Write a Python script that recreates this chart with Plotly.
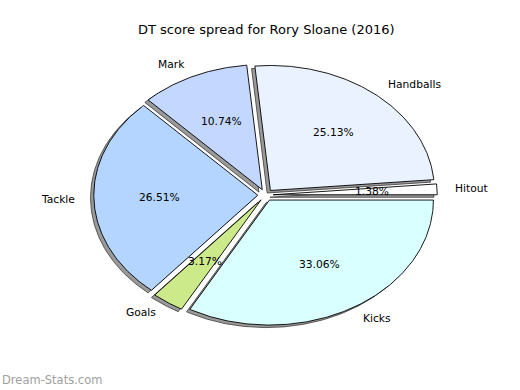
import numpy as np
import plotly.graph_objects as go

# Data (counter-clockwise from 0 degrees, matplotlib style)
categories = ["Hitout", "Handballs", "Mark", "Tackle", "Goals", "Kicks"]
values = [1.38, 25.13, 10.74, 26.51, 3.17, 33.06]
colors = ["#FFFFFF", "#EBF2FF", "#C4D8FF", "#B3D5FF", "#CDEA8A", "#D9FFFF"]
explode = 0.047
title = "DT score spread for Rory Sloane (2016)"

# pixel geometry
W, H = 520, 390
cx_px, cy_px = 265.5, 195
sx, sy = 164.0, 125.0
xr = [-cx_px / sx, (W - cx_px) / sx]
yr = [-(H - cy_px) / sy, cy_px / sy]

fig = go.Figure()
total = sum(values)
theta0 = 0.0
wedges = []
for cat, v, col in zip(categories, values, colors):
    t1 = theta0
    t2 = theta0 + 360.0 * v / total
    tm = np.deg2rad((t1 + t2) / 2)
    ex, ey = explode * np.cos(tm), explode * np.sin(tm)
    n = max(4, int(abs(t2 - t1) * 1.5))
    th = np.deg2rad(np.linspace(t1, t2, n))
    xs = np.concatenate([[ex], ex + np.cos(th), [ex]])
    ys = np.concatenate([[ey], ey + np.sin(th), [ey]])
    wedges.append((cat, v, col, xs, ys, ex, ey, tm))
    theta0 = t2

# shadows
for cat, v, col, xs, ys, ex, ey, tm in wedges:
    fig.add_trace(go.Scatter(x=xs - 0.02, y=ys - 0.02, mode="lines", fill="toself",
                             fillcolor="rgba(100,100,100,0.65)",
                             line=dict(color="rgba(60,60,60,0.8)", width=1),
                             hoverinfo="skip", showlegend=False))
# wedges
for cat, v, col, xs, ys, ex, ey, tm in wedges:
    fig.add_trace(go.Scatter(x=xs, y=ys, mode="lines", fill="toself",
                             fillcolor=col, line=dict(color="black", width=0.9),
                             name=cat, hoverinfo="name", showlegend=False))

annotations = []
for cat, v, col, xs, ys, ex, ey, tm in wedges:
    lx = ex + 1.1 * np.cos(tm)
    ly = ey + 1.1 * np.sin(tm)
    annotations.append(dict(x=lx, y=ly, text=cat, showarrow=False,
                            xanchor="left" if lx > 0 else "right", yanchor="middle",
                            font=dict(family="DejaVu Sans", size=10.7, color="black")))
    px = ex + 0.6 * np.cos(tm)
    py = ey + 0.6 * np.sin(tm)
    annotations.append(dict(x=px, y=py, text=f"{v:.2f}%", showarrow=False,
                            xanchor="center", yanchor="middle",
                            font=dict(family="DejaVu Sans", size=10.7, color="black")))

annotations.append(dict(xref="paper", yref="paper", x=0.5 * (395 + 138) / W, y=1 - 30 / H,
                        text=title, showarrow=False, xanchor="center", yanchor="middle",
                        font=dict(family="DejaVu Sans", size=13, color="black")))
annotations.append(dict(xref="paper", yref="paper", x=0, y=1 - 380 / H,
                        text="Dream-Stats.com", showarrow=False, xanchor="left", yanchor="middle",
                        font=dict(family="DejaVu Sans", size=11.5, color="#a0a0a0")))

fig.update_layout(
    width=W, height=H, margin=dict(l=0, r=0, t=0, b=0),
    paper_bgcolor="white", plot_bgcolor="white",
    xaxis=dict(range=xr, visible=False, fixedrange=True),
    yaxis=dict(range=yr, visible=False, fixedrange=True),
    annotations=annotations,
)
fig.write_html("out.html")
